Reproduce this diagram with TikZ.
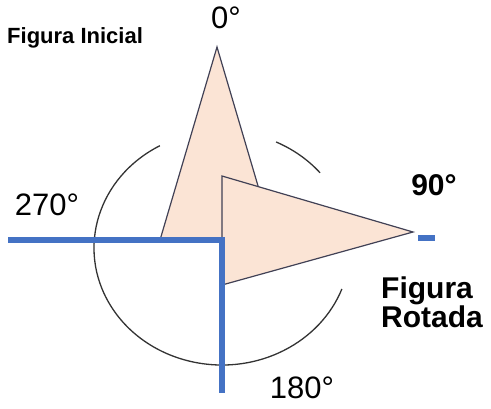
\documentclass[tikz,border=0pt]{standalone}
\usepackage{fontspec}
\setmainfont{Liberation Sans}

\definecolor{peach}{RGB}{251,228,213}
\definecolor{edgegray}{RGB}{65,65,85}
\definecolor{axisblue}{RGB}{68,114,196}

\begin{document}
\begin{tikzpicture}[
    x=1pt, y=1pt,
    tri/.style={fill=peach,draw=edgegray,line width=1.2pt,line join=miter},
    axis/.style={draw=axisblue,line width=5.5pt},
    ring/.style={draw=black!80,line width=1.3pt},
    deg/.style={inner sep=0pt,anchor=base,font=\fontsize{31}{31}\selectfont},
    degbold/.style={deg,font=\bfseries\fontsize{30}{30}\selectfont},
    tag/.style={inner sep=0pt,anchor=base west,align=left}
]
\useasboundingbox (0,0) rectangle (491,-408);

\coordinate (c) at (222,-248);
\coordinate (a1) at (217,-47);
\coordinate (a2) at (160,-240);
\coordinate (a3) at (274,-240);
\coordinate (b1) at (222,-176);
\coordinate (b2) at (222,-285);
\coordinate (b3) at (413,-232);
\coordinate (corner) at (222,-240);
\coordinate (west) at (8,-240);
\coordinate (south) at (222,-393);
\coordinate (east1) at (418,-238);
\coordinate (east2) at (435,-238);

\node[tag,font=\bfseries\fontsize{22}{22}\selectfont] (initial) at (7,-43) {Figura Inicial};
\node[deg] (d0) at (226,-28) {0°};
\node[degbold] (d90) at (434,-195) {90°};
\node[deg] (d180) at (302,-398) {180°};
\node[deg] (d270) at (47,-215) {270°};
\node[tag,font=\bfseries\fontsize{30}{29}\selectfont] (rotated) at (381,-327) {Figura\\Rotada};

\draw[ring] (c) ++(119:128 and 117) arc[start angle=119, end angle=339.5, x radius=128, y radius=117];
\draw[ring] (c) ++(40:128 and 117) arc[start angle=40, end angle=65, x radius=128, y radius=117];

\draw[tri] (a1) -- (a2) -- (a3) -- cycle;
\draw[tri] (b1) -- (b2) -- (b3) -- cycle;

\draw[axis] (west) -- (corner) -- (south);
\draw[axis] (east1) -- (east2);
\end{tikzpicture}
\end{document}
